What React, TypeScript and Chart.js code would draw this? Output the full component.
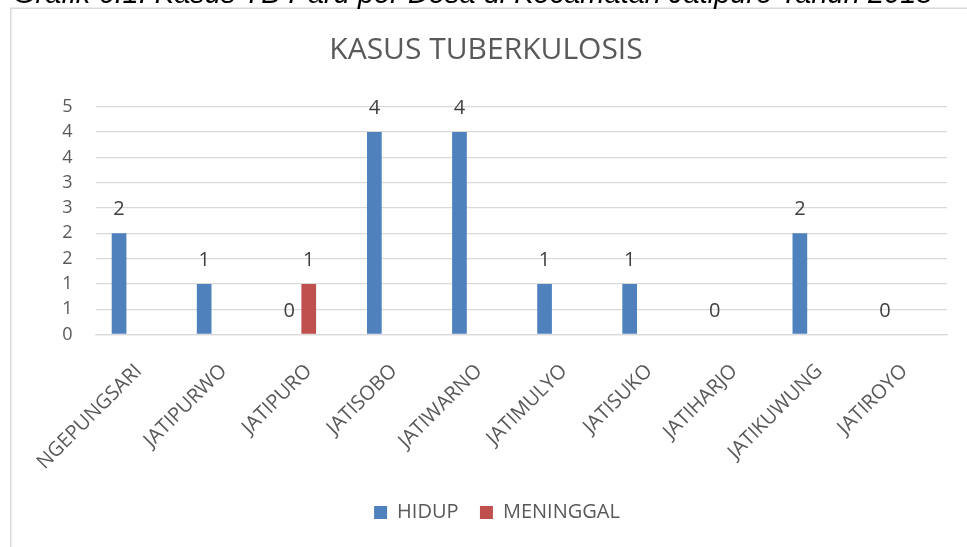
import React, { useEffect, useRef } from 'react';
import { Chart, registerables } from 'chart.js';

Chart.register(...registerables);

const caption = 'Grafik 6.1. Kasus TB Paru per Desa di Kecamatan Jatipuro Tahun 2018';
const chartTitle = 'KASUS TUBERKULOSIS';
const categories = [
  'NGEPUNGSARI',
  'JATIPURWO',
  'JATIPURO',
  'JATISOBO',
  'JATIWARNO',
  'JATIMULYO',
  'JATISUKO',
  'JATIHARJO',
  'JATIKUWUNG',
  'JATIROYO',
];
const hidup: (number | null)[] = [2, 1, 0, 4, 4, 1, 1, 0, 2, 0];
const meninggal: (number | null)[] = [null, null, 1, null, null, null, null, null, null, null];
// third (empty) series column that reserves its slot in each cluster
const kosong: (number | null)[] = [null, null, null, null, null, null, null, null, null, null];
const yTickLabels = ['0', '1', '1', '2', '2', '3', '3', '4', '4', '5'];

const FONT = "'Open Sans', 'Liberation Sans', sans-serif";

const framePlugin = {
  id: 'frame',
  beforeDraw(chart: any) {
    const ctx = chart.ctx;
    ctx.save();
    ctx.strokeStyle = '#d9d9d9';
    ctx.lineWidth = 1.5;
    ctx.strokeRect(10.75, 8.25, 1200, 800);
    ctx.restore();
  },
};

const titlePlugin = {
  id: 'customTitle',
  afterDraw(chart: any) {
    const ctx = chart.ctx;
    ctx.save();
    ctx.fillStyle = '#595959';
    ctx.font = `30px ${FONT}`;
    ctx.textAlign = 'center';
    ctx.textBaseline = 'alphabetic';
    ctx.fillText(chartTitle, 486, 59);
    ctx.restore();
  },
};

const dataLabelPlugin = {
  id: 'dataLabels',
  afterDatasetsDraw(chart: any) {
    const ctx = chart.ctx;
    ctx.save();
    ctx.fillStyle = '#404040';
    ctx.font = `20px ${FONT}`;
    ctx.textAlign = 'center';
    ctx.textBaseline = 'alphabetic';
    chart.data.datasets.forEach((ds: any, di: number) => {
      const meta = chart.getDatasetMeta(di);
      meta.data.forEach((el: any, i: number) => {
        const v = ds.data[i];
        if (v === null || v === undefined) return;
        ctx.fillText(String(v), el.x, el.y - 18);
      });
    });
    ctx.restore();
  },
};

export default function App() {
  const ref = useRef<HTMLCanvasElement>(null);

  useEffect(() => {
    if (!ref.current) return;
    const chart = new Chart(ref.current, {
      type: 'bar',
      data: {
        labels: categories,
        datasets: [
          { label: 'HIDUP', data: hidup, backgroundColor: '#4f81bd', borderWidth: 0 },
          { label: 'MENINGGAL', data: meninggal, backgroundColor: '#c0504d', borderWidth: 0 },
          { label: '', data: kosong, backgroundColor: '#9bbb59', borderWidth: 0 },
        ],
      },
      options: {
        responsive: false,
        animation: false,
        layout: { padding: { left: 47, right: 20, top: 106.8, bottom: 14.5 } },
        datasets: { bar: { categoryPercentage: 0.687, barPercentage: 0.754 } } as any,
        plugins: {
          title: { display: false },
          tooltip: { enabled: false },
          legend: {
            display: true,
            position: 'bottom',
            labels: {
              boxWidth: 13,
              boxHeight: 13,
              padding: 21.4,
              color: '#595959',
              font: { family: FONT, size: 20 },
              filter: (item: any) => item.datasetIndex < 2,
            },
          },
        },
        scales: {
          x: {
            grid: { display: false },
            border: { display: true, color: '#d9d9d9', width: 1.3 },
            ticks: {
              color: '#595959',
              font: { family: FONT, size: 20 },
              minRotation: 45,
              maxRotation: 45,
              padding: 17,
              autoSkip: false,
            },
            afterFit: (scale: any) => {
              scale.height = 146.6;
            },
          },
          y: {
            min: 0,
            max: 4.5,
            grid: { color: '#d9d9d9', lineWidth: 1.3, drawTicks: false },
            border: { display: false },
            ticks: {
              stepSize: 0.5,
              color: '#595959',
              font: { family: FONT, size: 18 },
              padding: 23.5,
              callback: (_v: any, i: number) => yTickLabels[i],
            },
            afterFit: (scale: any) => {
              scale.width = 49;
            },
          },
        },
      },
      plugins: [framePlugin, titlePlugin, dataLabelPlugin],
    });
    return () => chart.destroy();
  }, []);

  return (
    <div
      style={{
        position: 'fixed',
        left: 0,
        top: 0,
        width: 967,
        height: 547,
        overflow: 'hidden',
        background: '#ffffff',
      }}
    >
      <canvas ref={ref} width={967} height={547} style={{ position: 'absolute', left: 0, top: 0 }} />
      <div
        style={{
          position: 'absolute',
          left: 13,
          top: -21.5,
          fontFamily: "'Liberation Sans', Arial, sans-serif",
          fontStyle: 'italic',
          fontSize: 29,
          lineHeight: '29px',
          color: '#000000',
          whiteSpace: 'nowrap',
          zIndex: 2,
        }}
      >
        {caption}
      </div>
    </div>
  );
}
